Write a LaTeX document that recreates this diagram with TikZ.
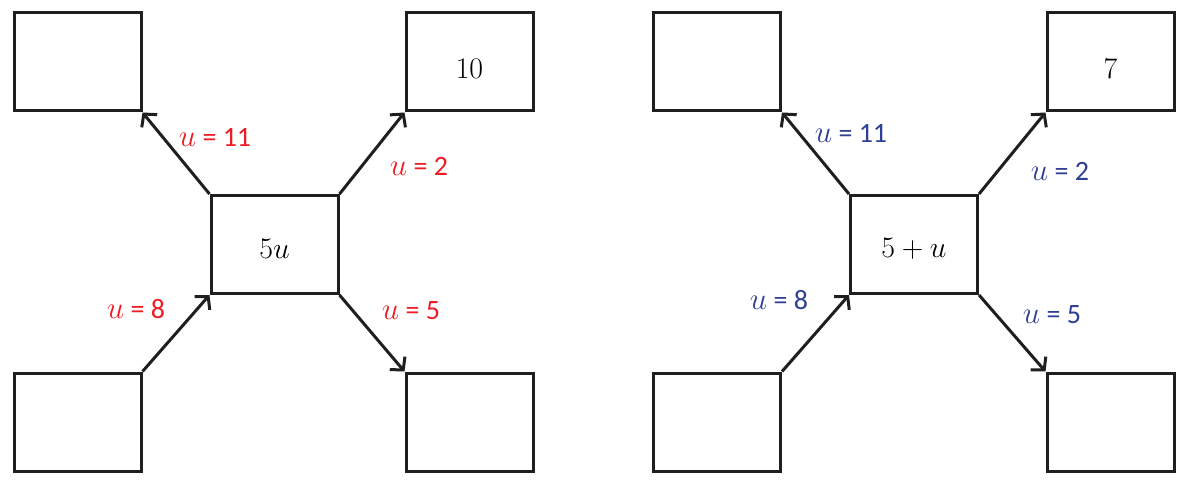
\documentclass[tikz,border=0pt]{standalone}
\usepackage{fontspec}
\setmainfont{Carlito}
\usetikzlibrary{arrows.meta}
\definecolor{lred}{HTML}{ED1C24}
\definecolor{lblue}{HTML}{2E3F94}
\newcommand{\uu}{\scalebox{1.25}{$u$}}
\newcommand{\bt}[1]{\scalebox{1.2}{$#1$}}
\tikzset{
  box/.style={draw=black!88, line width=3pt, minimum width=127pt, minimum height=98pt, inner sep=0pt},
  boxtext/.style={font=\fontsize{24.88}{30}\selectfont, inner sep=0pt},
  conn/.style={draw=black!88, line width=3pt, -{Straight Barb[length=9pt,width=20pt,line width=3pt]}},
  lab/.style={font=\fontsize{28}{32}\selectfont},
}
\begin{document}
\begin{tikzpicture}[x=1pt,y=-1pt]
\useasboundingbox (0,0) rectangle (1189,486);
% left
\node[box] (c1) at (274.5,244.5) {};
\node[box] (tl1) at (77.5,62) {};
\node[box] (tr1) at (469.5,62) {};
\node[box] (bl1) at (77.5,422) {};
\node[box] (br1) at (469.5,422) {};
\node[boxtext] (t1c) at ([yshift=-4pt]c1.center) {\bt{5u}};
\node[boxtext] (t1tr) at ([yshift=-7pt]tr1.center) {\bt{10}};
\draw[conn] (c1.north west) -- (tl1.south east);
\draw[conn] (c1.north east) -- (tr1.south west);
\draw[conn] (bl1.north east) -- (c1.south west);
\draw[conn] (c1.south east) -- (br1.north west);
\node[lab,text=lred] (l1a) at (215,137) {\uu\ = 11};
\node[lab,text=lred] (l1b) at (419,166) {\uu\ = 2};
\node[lab,text=lred] (l1c) at (136,309) {\uu\ = 8};
\node[lab,text=lred] (l1d) at (411,311) {\uu\ = 5};
% right
\node[box] (c2) at (914,244.5) {};
\node[box] (tl2) at (717,62) {};
\node[box] (tr2) at (1110.5,62) {};
\node[box] (bl2) at (717,422) {};
\node[box] (br2) at (1110.5,422) {};
\node[boxtext] (t2c) at ([yshift=-4pt]c2.center) {\bt{5 + u}};
\node[boxtext] (t2tr) at ([yshift=-7pt]tr2.center) {\bt{7}};
\draw[conn] (c2.north west) -- (tl2.south east);
\draw[conn] (c2.north east) -- (tr2.south west);
\draw[conn] (bl2.north east) -- (c2.south west);
\draw[conn] (c2.south east) -- (br2.north west);
\node[lab,text=lblue] (l2a) at (851,133) {\uu\ = 11};
\node[lab,text=lblue] (l2b) at (1060,171) {\uu\ = 2};
\node[lab,text=lblue] (l2c) at (779,300) {\uu\ = 8};
\node[lab,text=lblue] (l2d) at (1052,315) {\uu\ = 5};
\end{tikzpicture}
\end{document}
